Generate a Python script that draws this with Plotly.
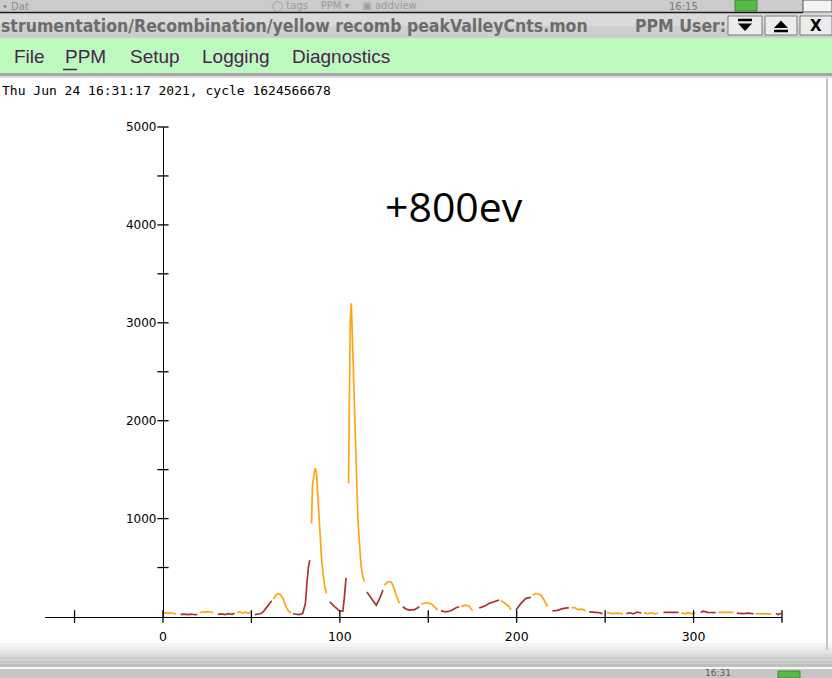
import plotly.graph_objects as go

# ---- data: peak/valley counts per channel ----
# each point carries a phase tag: "p" = peak window (orange), "v" = valley window (dark red)
chan = [
    0, 1.5, 3, 4.5, 6, 7.5,
    10, 12, 14, 16, 18, 19.5,
    21, 22.5, 24, 25.5, 27, 28.5,
    31, 33, 35, 37, 39, 40.5,
    42, 43.5, 45, 46.5, 48, 49.5,
    52, 54, 55.5, 57, 58.5, 60, 61.5,
    62.5, 63.5, 65, 66.5, 68, 69.5, 71, 72.5,
    73.5, 75, 77, 79, 80.5, 81.4, 82.2, 83,
    84, 84.5, 85.5, 86.2, 86.8, 87.7, 88.6, 89.6, 90.5, 91.5, 92.4,
    94.3, 97, 99.9, 101.7, 102.6, 103.5,
    104.9, 105.2, 105.9, 106.5, 107.4, 108.3, 109.2, 110.2, 111.1, 112, 113, 113.9,
    115.3, 117.8, 120.6, 122.5, 124.4,
    125.2, 127.1, 129, 130.3, 131.8, 133.7,
    135.6, 137.5, 139.4, 142.2, 145,
    146, 148.8, 150.7, 152.5, 155.3,
    157.2, 160, 162.9, 165.7, 167.5,
    168.5, 171.3, 173.1, 175,
    178.8, 181.7, 184.5, 187.3, 190.1,
    191.1, 193, 195.8, 196.7,
    199.5, 202.4, 205.2, 208,
    208.9, 210.8, 213.6, 215.5, 217.4,
    220.2, 223, 226, 229.5,
    231, 233, 235, 237, 239,
    241, 244, 246.5, 248.5,
    251, 254, 257, 260,
    262, 264, 266, 268, 270.5,
    272, 274, 276, 278, 280,
    283, 286, 289, 291.5,
    293, 295, 297, 299, 301,
    304, 305.5, 308, 310, 312.5,
    314, 318, 322.5,
    324.5, 328, 331, 334,
    335, 339, 344,
    346.5, 348, 349.4,
]
counts = [
    35, 40, 32, 38, 30, 28,
    22, 25, 20, 24, 18, 22,
    38, 48, 45, 50, 46, 40,
    22, 26, 20, 30, 22, 34,
    38, 48, 32, 45, 35, 42,
    20, 24, 30, 55, 90, 130, 160,
    175, 210, 235, 220, 180, 100, 55, 38,
    28, 22, 20, 30, 130, 340, 500, 575,
    950, 1325, 1465, 1515, 1465, 1160, 850, 605, 440, 300, 235,
    150, 100, 58, 55, 200, 395,
    1360, 2110, 3030, 3200, 2710, 2145, 1515, 1000, 745, 525, 405, 355,
    250, 185, 115, 185, 270,
    320, 355, 355, 305, 220, 135,
    100, 75, 65, 70, 100,
    128, 140, 135, 118, 65,
    58, 48, 58, 90, 100,
    106, 116, 106, 58,
    86, 106, 134, 150, 168,
    160, 140, 100, 68,
    65, 134, 185, 195,
    220, 237, 220, 168, 100,
    58, 62, 80, 90,
    92, 88, 70, 75, 60,
    48, 44, 40, 30,
    40, 30, 34, 26,
    30, 38, 28, 45, 36,
    40, 30, 38, 28, 36,
    42, 44, 40, 42,
    38, 28, 40, 30, 36,
    40, 55, 42, 44, 40,
    42, 44, 42,
    35, 30, 34, 28,
    28, 26, 27,
    30, 20, 34,
]
phase = (
    ["p"] * 6 + ["v"] * 6 + ["p"] * 6 + ["v"] * 6 + ["p"] * 6 + ["v"] * 7
    + ["p"] * 8 + ["v"] * 8 + ["p"] * 11 + ["v"] * 6 + ["p"] * 12 + ["v"] * 5
    + ["p"] * 6 + ["v"] * 5 + ["p"] * 5 + ["v"] * 5 + ["p"] * 4 + ["v"] * 5
    + ["p"] * 4 + ["v"] * 4 + ["p"] * 5 + ["v"] * 4 + ["p"] * 5 + ["v"] * 4
    + ["p"] * 4 + ["v"] * 5 + ["p"] * 5 + ["v"] * 4 + ["p"] * 5 + ["v"] * 5
    + ["p"] * 3 + ["v"] * 4 + ["p"] * 3 + ["v"] * 3
)

x_ticks = [-50, 0, 50, 100, 150, 200, 250, 300, 350]
x_labels = [0, 100, 200, 300]
y_ticks = [500, 1000, 1500, 2000, 2500, 3000, 3500, 4000, 4500, 5000]
y_labels = [1000, 2000, 3000, 4000, 5000]

stamp = "Thu Jun 24 16:31:17 2021, cycle 1624566678"
win_title = "strumentation/Recombination/yellow recomb peakValleyCnts.mon"
menu_items = ["File", "PPM", "Setup", "Logging", "Diagnostics"]
note = "+800ev"

PEAK_COLOR = "#ffa514"
VALLEY_COLOR = "#a83434"

W, H = 832, 678


def fx(p):
    return p / W


def fy(p):
    return 1 - p / H


def runs(tag):
    """Split the series into the stretches carrying a given phase tag."""
    xs, ys = [], []
    prev = None
    for x, y, t in zip(chan, counts, phase):
        if t == tag:
            if prev is not None and prev != tag and xs:
                xs.append(None)
                ys.append(None)
            xs.append(x)
            ys.append(y)
        prev = t
    return xs, ys


fig = go.Figure()

vx, vy = runs("v")
px_, py_ = runs("p")
fig.add_trace(go.Scatter(x=vx, y=vy, mode="lines", line=dict(color=VALLEY_COLOR, width=1.7),
                         connectgaps=False, hoverinfo="skip"))
fig.add_trace(go.Scatter(x=px_, y=py_, mode="lines", line=dict(color=PEAK_COLOR, width=1.7),
                         connectgaps=False, hoverinfo="skip"))

# crossing tick marks on both axes
fig.add_trace(go.Scatter(x=x_ticks, y=[0] * len(x_ticks), mode="markers",
                         marker=dict(symbol="line-ns", size=9, line=dict(color="black", width=1.3)),
                         cliponaxis=False, hoverinfo="skip"))
fig.add_trace(go.Scatter(x=[0] * len(y_ticks), y=y_ticks, mode="markers",
                         marker=dict(symbol="line-ew", size=8, line=dict(color="black", width=1.3)),
                         cliponaxis=False, hoverinfo="skip"))

shapes = []


def rect(x0, y0, x1, y1, fill, line=None, lw=0):
    shapes.append(dict(type="rect", xref="paper", yref="paper",
                       x0=fx(x0), x1=fx(x1), y0=fy(y1), y1=fy(y0),
                       fillcolor=fill, layer="below",
                       line=dict(color=line or fill, width=lw)))


def seg(x0, y0, x1, y1, color, w=1):
    shapes.append(dict(type="line", xref="paper", yref="paper",
                       x0=fx(x0), x1=fx(x1), y0=fy(y0), y1=fy(y1),
                       line=dict(color=color, width=w), layer="above"))


def poly(pts, color):
    d = "M " + " L ".join(f"{fx(a):.5f},{fy(b):.5f}" for a, b in pts) + " Z"
    shapes.append(dict(type="path", xref="paper", yref="paper", path=d,
                       fillcolor=color, line=dict(color=color, width=0), layer="above"))


# desktop panel at the top
rect(0, 0, 832, 12, "#cbcbcb")
rect(735, 0, 757, 11, "#58b848", "#3a8a30", 1)
rect(803, 0, 832, 12, "#f4f4f4", "#555555", 1)
seg(0, 12.5, 803, 12.5, "#1a1a1a", 1.5)

# window title bar
rect(0, 13, 832, 26, "#dadada")
rect(0, 26, 832, 38, "#cecece")
for bx0, bx1 in [(728, 762), (765, 797), (800, 832)]:
    rect(bx0, 16, bx1, 35, "#ececec", "#7a7a7a", 1)
# button glyphs
seg(738, 20, 752, 20, "black", 2.5)
poly([(738, 23.5), (752, 23.5), (745, 31)], "black")
poly([(774, 28), (788, 28), (781, 20.5)], "black")
seg(774, 31, 788, 31, "black", 2.5)

# menu bar
rect(0, 38, 832, 73, "#bdfabd")
rect(0, 73, 832, 76, "#a6a6a6")
rect(0, 76, 832, 78, "#dcdcdc")
seg(63, 69.5, 77, 69.5, "#4b2350", 1.5)

# right frame edge
seg(827, 78, 827, 650, "#c4c4c4", 2)

# bottom shading and panel
greys = ["#fbfbfb", "#f4f4f4", "#ececec", "#e2e2e2", "#d8d8d8", "#cecece", "#c6c6c6", "#bfbfbf"]
for i, g in enumerate(greys):
    rect(0, 640 + i * 3.4, 832, 640 + (i + 1) * 3.4, g)
rect(0, 667, 832, 669, "#f6f6f6")
rect(0, 669, 832, 678, "#c6c6c6")
rect(778, 671, 800, 678, "#58b848", "#3a8a30", 1)

annotations = [
    dict(text=win_title, x=fx(-1), y=fy(25.5), xanchor="left", yanchor="middle",
         font=dict(family="DejaVu Sans Condensed, DejaVu Sans", size=17.5, color="#6c6c6c", weight="bold")),
    dict(text="PPM User:", x=fx(633), y=fy(25.5), xanchor="left", yanchor="middle",
         font=dict(family="DejaVu Sans Condensed, DejaVu Sans", size=17.5, color="#6c6c6c", weight="bold")),
    dict(text="X", x=fx(816), y=fy(25.5), xanchor="center", yanchor="middle",
         font=dict(family="DejaVu Sans", size=15, color="black", weight="bold")),
    dict(text=stamp, x=fx(0), y=fy(90.5), xanchor="left", yanchor="middle",
         font=dict(family="DejaVu Sans Mono", size=13, color="black")),
    dict(text=note, x=fx(453.5), y=fy(206), xanchor="center", yanchor="middle",
         font=dict(family="Open Sans", size=41, color="black")),
    dict(text="16:15", x=fx(683), y=fy(6), xanchor="center", yanchor="middle",
         font=dict(family="DejaVu Sans", size=10, color="#7a7a7a")),
    dict(text="16:31", x=fx(718), y=fy(672.5), xanchor="center", yanchor="middle",
         font=dict(family="DejaVu Sans", size=9, color="#5a5a5a")),
    dict(text="• Dat", x=fx(0), y=fy(6), xanchor="left", yanchor="middle",
         font=dict(family="DejaVu Sans", size=10, color="#8a8a8a")),
    dict(text="◯ tags    PPM ▾    ▣ addview", x=fx(270), y=fy(6), xanchor="left", yanchor="middle",
         font=dict(family="DejaVu Sans", size=10, color="#9a9a9a")),
]
menu_x = [12, 63, 128, 200, 290]
for label, mx in zip(menu_items, menu_x):
    annotations.append(dict(text=label, x=fx(mx), y=fy(56), xanchor="left", yanchor="middle",
                            font=dict(family="Liberation Sans", size=19, color="#4b2350")))
for a in annotations:
    a.update(xref="paper", yref="paper", showarrow=False)

x_lo, x_hi = -66.7, 350
fig.update_layout(
    width=W, height=H, autosize=False,
    margin=dict(l=0, r=0, t=0, b=0, pad=0, autoexpand=False),
    paper_bgcolor="white", plot_bgcolor="rgba(0,0,0,0)",
    showlegend=False,
    shapes=shapes, annotations=annotations,
    xaxis=dict(domain=[fx(45), fx(782)], range=[x_lo, x_hi], anchor="y",
               showline=True, linecolor="black", linewidth=1.3,
               showgrid=False, zeroline=False, automargin=False,
               tickvals=x_labels, ticks="outside", ticklen=8, tickcolor="rgba(0,0,0,0)",
               tickfont=dict(family="DejaVu Sans", size=12.5, color="black")),
    yaxis=dict(domain=[fy(616.5), fy(127)], range=[0, 5000], anchor="free", position=fx(163),
               showline=True, linecolor="black", linewidth=1.3,
               showgrid=False, zeroline=False, automargin=False,
               tickvals=y_labels, ticks="outside", ticklen=4, tickcolor="rgba(0,0,0,0)",
               tickfont=dict(family="DejaVu Sans", size=12, color="black")),
)

fig.write_html("out.html")
